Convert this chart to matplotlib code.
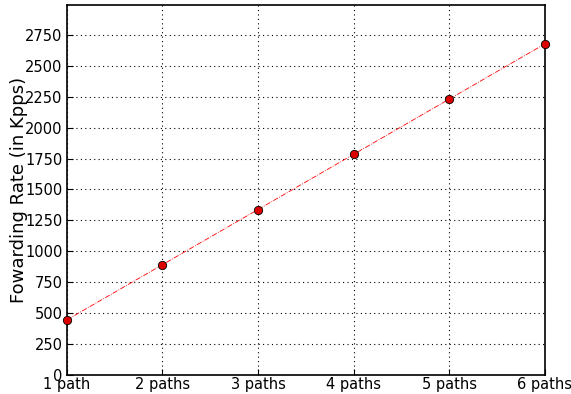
import matplotlib
matplotlib.use("Agg")
import matplotlib.pyplot as plt

categories = ["1 path", "2 paths", "3 paths", "4 paths", "5 paths", "6 paths"]
rates = [446, 892, 1338, 1784, 2230, 2676]
yticks = [0, 250, 500, 750, 1000, 1250, 1500, 1750, 2000, 2250, 2500, 2750]

fig = plt.figure(figsize=(5.71, 3.94), dpi=100)
ax = fig.add_axes([0.117, 0.048, 0.837, 0.939])
x = list(range(len(categories)))
ax.plot(x, rates, color="red", linestyle="-.", linewidth=0.6,
        marker="o", markersize=6, markerfacecolor="#dd0000",
        markeredgecolor="black", markeredgewidth=0.6, clip_on=False, zorder=3)
ax.set_xlim(0, 5)
ax.set_ylim(0, 2990)
ax.set_xticks(x)
ax.set_xticklabels(categories)
ax.set_yticks(yticks)
ax.tick_params(direction="in", length=4, width=0.8, labelsize=10.5)
ax.tick_params(axis="x", pad=1.5)
ax.tick_params(axis="y", pad=3)
ax.grid(True, color="black", linestyle=(0, (1, 3)), linewidth=0.8)
for s in ax.spines.values():
    s.set_linewidth(1.2)
ax.set_ylabel("Fowarding Rate (in Kpps)", fontsize=13)
ax.yaxis.set_label_coords(-0.082, 0.5)
fig.savefig("out.png", dpi=100)
